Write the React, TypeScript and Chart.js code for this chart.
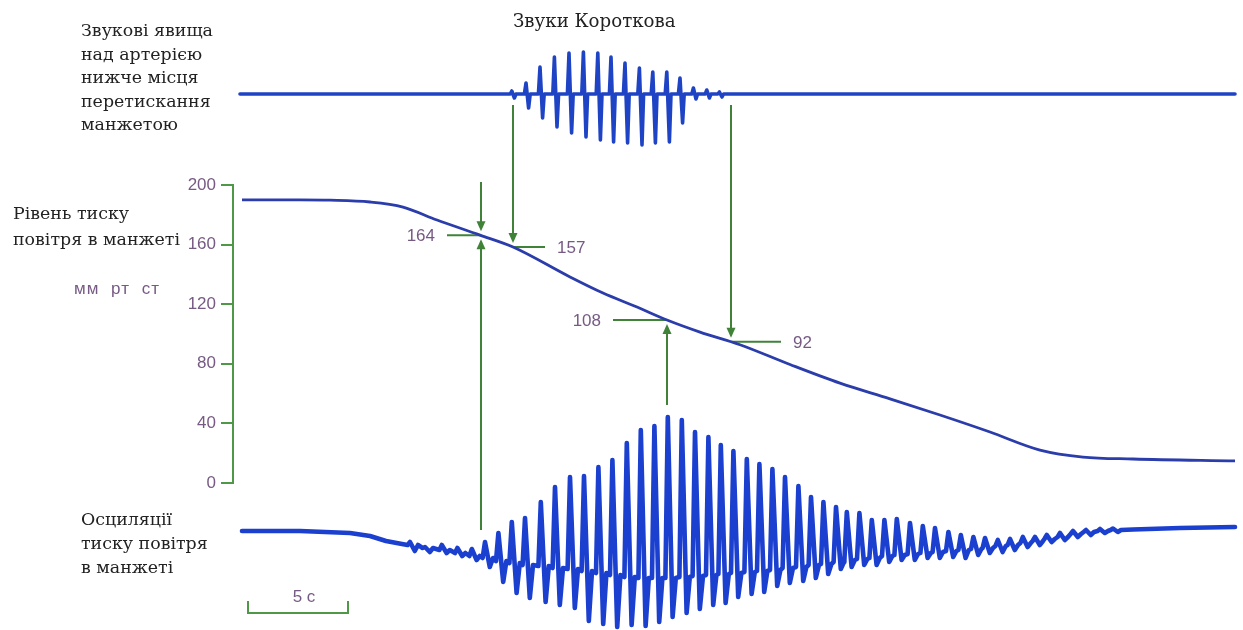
import React, { useEffect, useRef } from 'react';
import { Chart, registerables } from 'chart.js';

Chart.register(...registerables);

// ---------- Cuff pressure (mm Hg) against time (s)
const pressureTimes = [0.4, 3.3, 4.8, 6.8, 8.45, 10.15, 12.3, 13.95, 16.8, 18.45, 20.15, 21.65, 23.3, 25.3, 27.8, 30.3, 32.8, 35.3, 37.8, 40.3, 42.45, 44.95, 50.05];
const pressureValues = [190, 190, 189.8, 188.6, 185.2, 176.5, 166.4, 158.4, 138.3, 127.5, 118.1, 109.4, 101.3, 92.8, 79.5, 67, 56.5, 45.6, 34.2, 22.1, 17.4, 16.1, 14.8];
const pressureTicks = [0, 40, 80, 120, 160, 200];

// ---------- Korotkoff sounds (top trace), arbitrary units
const soundTraceStart = 0.3;
const soundTraceEnd = 50.05;
const soundTimes = [13.89, 14.6, 15.3, 16.02, 16.75, 17.47, 18.19, 18.85, 19.55, 20.27, 20.94, 21.64, 22.3, 22.97, 23.64, 24.27];
const soundTops = [3, 11, 27, 37, 41, 42, 41, 37, 31, 26, 22, 22, 16, 6, 4, 2];
const soundBottoms = [-4, -14, -24, -33, -39, -43, -46, -48, -49, -51, -49, -48, -29, -5, -4, -3];

// ---------- Cuff pressure oscillations (bottom trace), arbitrary units
const oscLeadTimes = [0.4, 3.3, 5.8, 6.8, 7.6, 8.4];
const oscLeadValues = [9, 9, 7, 4, -1, -4];
const oscBeatTimes = [8.8, 9.55, 10.39, 11.17, 11.89, 12.55, 13.22, 13.89, 14.55, 15.34, 16.05, 16.8, 17.5, 18.22, 18.92, 19.64, 20.34, 21.02, 21.69, 22.39, 23.05, 23.72, 24.34, 24.97, 25.64, 26.27, 26.92, 27.55, 28.22, 28.85, 29.47, 30.1, 30.64, 31.27, 31.89, 32.52, 33.14, 33.8, 34.44, 35.05, 35.72, 36.34, 36.97, 37.55, 38.19, 38.8, 39.44, 40.05, 40.64, 41.3, 41.95, 42.6, 43.3, 43.95];
const oscPeaks = [-2, -7, -5, -8, -9, -2, 7, 18, 22, 38, 53, 63, 64, 73, 80, 97, 110, 114, 123, 120, 108, 103, 95, 89, 81, 76, 71, 63, 54, 43, 38, 33, 28, 27, 20, 20, 21, 17, 14, 12, 8, 5, 3, 2, 0, 1, 3, 3, 5, 7, 9, 10, 11, 11.5];
const oscTroughs = [-11, -12, -13, -16, -20, -27, -42, -53, -58, -62, -65, -68, -81, -84, -87, -85, -86, -82, -77, -73, -69, -65, -63, -57, -54, -52, -46, -43, -41, -38, -34, -29, -27, -25, -25, -22, -20, -20, -18, -18, -17, -18, -15, -13, -12, -10, -7, -5, -2, 0, 3, 5, 7, 8];
const oscBaseline = [-5, -8, -10, -13, -16, -18, -21, -23, -25, -26, -28, -29, -31, -33, -35, -37, -38, -38, -38, -37, -36, -35, -34, -33, -32, -31, -30, -28, -27, -25, -24, -22, -20, -19, -18, -16, -15, -14, -13, -12, -11, -10, -9, -8, -6, -5, -3, -1, 1, 3, 6, 8, 9, 10];
const oscTailTimes = [44.95, 47.3, 50.05];
const oscTailValues = [10.5, 12, 13];

// ---------- Annotations
const markerLabels = ['164', '157', '108', '92'];
const markerTimes = [12.33, 13.95, 21.65, 24.85];
const scaleBarStart = 0.7;
const scaleBarSeconds = 5;
const scaleBarLabel = '5 с';

// ---------- styles
const AXIS_GREEN = '#4f9847';
const ARROW_GREEN = '#3f8238';
const LABEL_PURPLE = '#775a84';
const NUM_FONT = '17px "Liberation Sans", Arial, sans-serif';

type P = { x: number; y: number };

function buildPressure(): P[] {
  return pressureTimes.map((t, i) => ({ x: t, y: pressureValues[i] }));
}

function buildSound(): P[] {
  const pts: P[] = [{ x: soundTraceStart, y: 0 }];
  soundTimes.forEach((t, i) => {
    pts.push({ x: t - 0.08, y: 0 }, { x: t, y: soundTops[i] }, { x: t + 0.13, y: soundBottoms[i] }, { x: t + 0.21, y: 0 });
  });
  pts.push({ x: soundTraceEnd, y: 0 });
  return pts;
}

function buildOsc(): P[] {
  const pts: P[] = oscLeadTimes.map((t, i) => ({ x: t, y: oscLeadValues[i] }));
  oscBeatTimes.forEach((t, i) => {
    pts.push(
      { x: t - 0.12, y: oscBaseline[i] },
      { x: t, y: oscPeaks[i] },
      { x: t + 0.24, y: oscTroughs[i] },
      { x: t + 0.4, y: oscBaseline[i] }
    );
  });
  oscTailTimes.forEach((t, i) => pts.push({ x: t, y: oscTailValues[i] }));
  return pts;
}

function pressureAt(t: number): number {
  for (let i = 0; i < pressureTimes.length - 1; i++) {
    const a = pressureTimes[i], b = pressureTimes[i + 1];
    if (t >= a && t <= b) {
      const f = (t - a) / (b - a);
      return pressureValues[i] + f * (pressureValues[i + 1] - pressureValues[i]);
    }
  }
  return pressureValues[pressureValues.length - 1];
}

function nearestBeat(t: number): number {
  let best = 0;
  oscBeatTimes.forEach((bt, i) => {
    if (Math.abs(bt - t) < Math.abs(oscBeatTimes[best] - t)) best = i;
  });
  return best;
}

// layout of each marker: side of the label, length of the tick, arrows
const markerLayout = [
  { side: -1, len: 34, down: 'short', up: true },
  { side: 1, len: 32, down: 'sound', up: false },
  { side: -1, len: 54, down: '', up: true },
  { side: 1, len: 50, down: 'sound', up: false },
];

function arrowDown(ctx: CanvasRenderingContext2D, x: number, y0: number, tip: number) {
  ctx.beginPath();
  ctx.moveTo(x, y0);
  ctx.lineTo(x, tip - 7);
  ctx.stroke();
  ctx.beginPath();
  ctx.moveTo(x, tip);
  ctx.lineTo(x - 4.5, tip - 10);
  ctx.lineTo(x + 4.5, tip - 10);
  ctx.closePath();
  ctx.fill();
}

function arrowUp(ctx: CanvasRenderingContext2D, x: number, y0: number, tip: number) {
  ctx.beginPath();
  ctx.moveTo(x, y0);
  ctx.lineTo(x, tip + 7);
  ctx.stroke();
  ctx.beginPath();
  ctx.moveTo(x, tip);
  ctx.lineTo(x - 4.5, tip + 10);
  ctx.lineTo(x + 4.5, tip + 10);
  ctx.closePath();
  ctx.fill();
}

const overlayPlugin = {
  id: 'overlay',
  beforeDatasetsDraw(chart: any) {
    const { ctx, chartArea, scales } = chart;
    const xs = scales.x, ys = scales.y, yS = scales.ySound, yO = scales.yOsc;
    ctx.save();
    // pressure axis line (only over the 0–200 range)
    ctx.strokeStyle = AXIS_GREEN;
    ctx.lineWidth = 2;
    ctx.beginPath();
    const ax = chartArea.left - 1;
    ctx.moveTo(ax, ys.getPixelForValue(0) + 1);
    ctx.lineTo(ax, ys.getPixelForValue(200) - 1);
    ctx.stroke();

    // markers
    ctx.strokeStyle = ARROW_GREEN;
    ctx.fillStyle = ARROW_GREEN;
    ctx.lineWidth = 2;
    ctx.font = NUM_FONT;
    markerTimes.forEach((t, i) => {
      const lay = markerLayout[i];
      const px = Math.round(xs.getPixelForValue(t));
      const cy = ys.getPixelForValue(pressureAt(t));
      if (lay.down === 'short') {
        arrowDown(ctx, px, ys.getPixelForValue(202), cy - 4);
      } else if (lay.down === 'sound') {
        arrowDown(ctx, px, yS.getPixelForValue(0) + 11, cy - 4);
      }
      if (lay.up) {
        const b = nearestBeat(t);
        arrowUp(ctx, px, yO.getPixelForValue(oscPeaks[b]) - 12, cy + 4);
      }
      ctx.beginPath();
      ctx.moveTo(px, cy);
      ctx.lineTo(px + lay.side * lay.len, cy);
      ctx.stroke();
      ctx.fillStyle = LABEL_PURPLE;
      ctx.textBaseline = 'middle';
      ctx.textAlign = lay.side < 0 ? 'right' : 'left';
      ctx.fillText(markerLabels[i], px + lay.side * (lay.len + 12), cy + 1);
      ctx.fillStyle = ARROW_GREEN;
    });

    // time scale bar
    const bx0 = xs.getPixelForValue(scaleBarStart);
    const bx1 = xs.getPixelForValue(scaleBarStart + scaleBarSeconds);
    const by = chartArea.bottom - 17;
    ctx.strokeStyle = AXIS_GREEN;
    ctx.lineWidth = 2;
    ctx.beginPath();
    ctx.moveTo(bx0, by - 12);
    ctx.lineTo(bx0, by);
    ctx.lineTo(bx1, by);
    ctx.lineTo(bx1, by - 12);
    ctx.stroke();
    ctx.fillStyle = LABEL_PURPLE;
    ctx.font = '17px "Liberation Sans", Arial, sans-serif';
    ctx.textAlign = 'center';
    ctx.textBaseline = 'middle';
    ctx.fillText(scaleBarLabel, (bx0 + bx1) / 2 + 6, by - 16);
    ctx.restore();
  },
};

const serif: React.CSSProperties = {
  position: 'absolute',
  fontFamily: '"DejaVu Serif", "Liberation Serif", serif',
  fontSize: 17.4,
  color: '#222',
  whiteSpace: 'pre',
  margin: 0,
};

export default function App() {
  const ref = useRef<HTMLCanvasElement | null>(null);

  useEffect(() => {
    if (!ref.current) return;
    const chart = new Chart(ref.current, {
      type: 'line',
      data: {
        datasets: [
          {
            label: 'Рівень тиску повітря в манжеті',
            data: buildPressure(),
            yAxisID: 'y',
            borderColor: '#2b3cab',
            borderWidth: 2.8,
            pointRadius: 0,
            cubicInterpolationMode: 'monotone',
            fill: false,
          },
          {
            label: 'Звуки Короткова',
            data: buildSound(),
            yAxisID: 'ySound',
            borderColor: '#1e43c4',
            borderWidth: 3.6,
            pointRadius: 0,
            tension: 0,
            borderJoinStyle: 'round',
            borderCapStyle: 'round',
            fill: false,
          },
          {
            label: 'Осциляції тиску повітря в манжеті',
            data: buildOsc(),
            yAxisID: 'yOsc',
            borderColor: '#1b3fcf',
            borderWidth: 4.6,
            pointRadius: 0,
            tension: 0,
            borderJoinStyle: 'round',
            borderCapStyle: 'round',
            fill: false,
          },
        ],
      },
      options: {
        animation: false,
        responsive: false,
        events: [],
        layout: { padding: { left: 0, right: 5, top: 0, bottom: 0 } },
        plugins: { legend: { display: false }, tooltip: { enabled: false }, title: { display: false } },
        scales: {
          x: { type: 'linear', min: 0, max: 50.2, display: false },
          y: {
            position: 'left',
            min: -98.7,
            max: 324.2,
            afterBuildTicks: (s: any) => {
              s.ticks = pressureTicks.map((v) => ({ value: v }));
            },
            afterFit: (s: any) => {
              s.width = 234;
              s.paddingTop = 0;
              s.paddingBottom = 0;
            },
            grid: { display: true, drawOnChartArea: false, drawTicks: true, tickLength: 13, color: AXIS_GREEN, lineWidth: 2 },
            border: { display: false },
            ticks: {
              color: LABEL_PURPLE,
              padding: 5,
              font: { family: '"Liberation Sans", Arial, sans-serif', size: 17 },
            },
          },
          ySound: { display: false, min: -536, max: 94 },
          yOsc: { display: false, min: -90, max: 540 },
        },
      } as any,
      plugins: [overlayPlugin],
    });
    return () => chart.destroy();
  }, []);

  return (
    <div style={{ position: 'absolute', left: 0, top: 0, width: 1243, height: 630, background: '#fff', overflow: 'hidden' }}>
      <canvas ref={ref} width={1243} height={630} style={{ position: 'absolute', left: 0, top: 0 }} />
      <div style={{ ...serif, left: 81, top: 19, lineHeight: '23.5px' }}>
        {'Звукові явища\nнад артерією\nнижче місця\nперетискання\nманжетою'}
      </div>
      <div style={{ ...serif, left: 513, top: 9, lineHeight: '23.5px', fontSize: 18.2 }}>Звуки Короткова</div>
      <div style={{ ...serif, left: 13, top: 200, lineHeight: '26px' }}>{'Рівень тиску\nповітря в манжеті'}</div>
      <div
        style={{
          position: 'absolute',
          left: 74,
          top: 279,
          fontFamily: '"Liberation Sans", Arial, sans-serif',
          fontSize: 17,
          letterSpacing: 1,
          wordSpacing: 6,
          color: LABEL_PURPLE,
          whiteSpace: 'pre',
          lineHeight: '20px',
        }}
      >
        мм рт ст
      </div>
      <div style={{ ...serif, left: 81, top: 507, lineHeight: '24px' }}>{'Осциляції\nтиску повітря\nв манжеті'}</div>
    </div>
  );
}
